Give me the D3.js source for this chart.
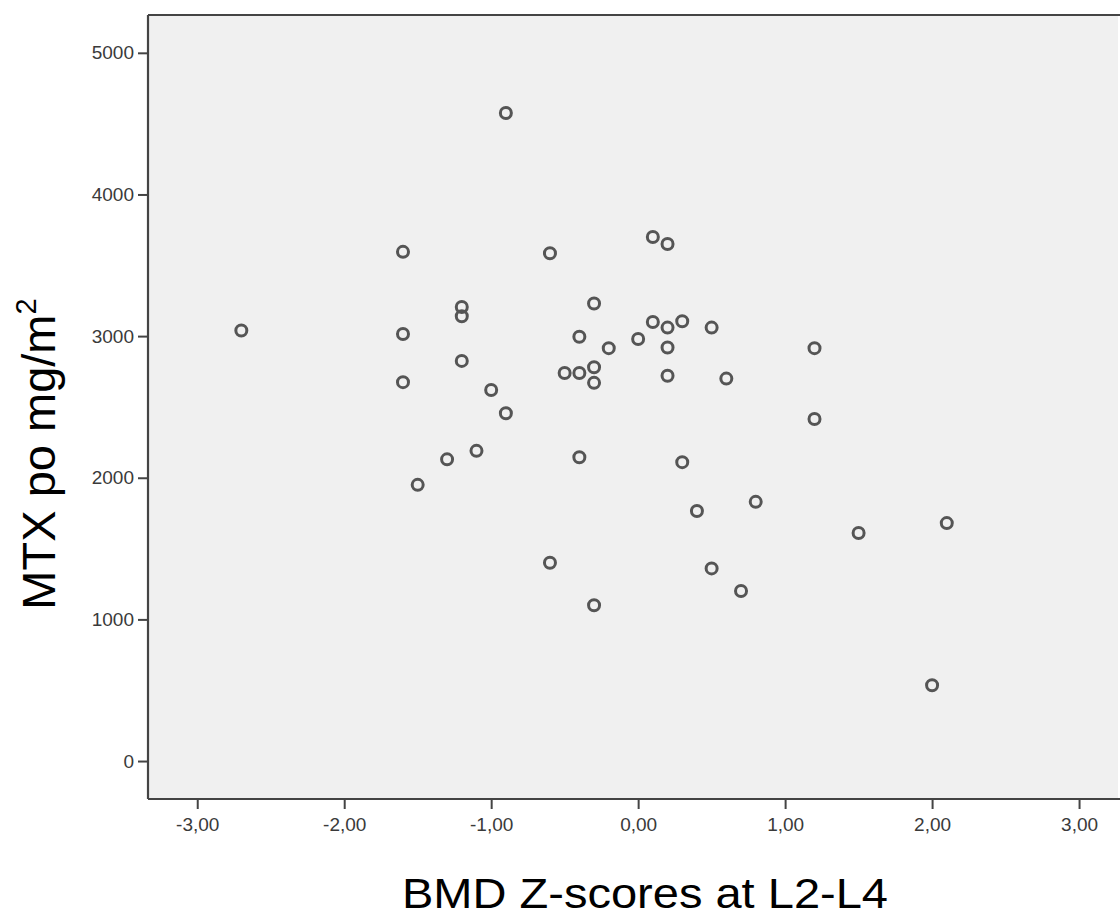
<!DOCTYPE html>
<html lang="en">
<head>
    <meta charset="UTF-8">
    <title>MTX vs BMD Z-scores</title>
    <style>
        body { margin: 0; background: #fff; }
        .tick text {
            font: 19px "Liberation Sans", Arial, sans-serif;
            fill: #3a3a3a;
        }
        .axis-title {
            font-family: "Liberation Sans", Arial, sans-serif;
            fill: #000;
        }
    </style>
</head>
<body>
    <script src="https://d3js.org/d3.v7.min.js"></script>
    <script>
        // BMD Z-score at L2-L4 and MTX dose (mg/m2)
        const zScores = [
            -2.7, -0.9, -1.6, -0.6, 0.1, 0.2, -1.6, -1.6, -1.2, -1.2, -1.2,
            -1.0, -0.9, -1.1, -1.3, -1.5, -0.3, -0.4, -0.2, 0.0, 0.1, 0.2,
            0.3, 0.5, 0.2, -0.5, -0.4, -0.3, -0.3, 0.2, 0.6, -0.4, 0.3,
            0.8, 0.4, 1.5, 2.1, 1.2, 1.2, -0.6, -0.3, 0.5, 0.7, 2.0
        ];
        const mtxDose = [
            3040, 4575, 3595, 3585, 3700, 3650, 3015, 2675, 3205, 3140, 2825,
            2620, 2455, 2190, 2130, 1950, 3230, 2995, 2915, 2980, 3100, 3060,
            3105, 3060, 2920, 2740, 2740, 2780, 2670, 2720, 2700, 2145, 2110,
            1830, 1765, 1610, 1680, 2915, 2415, 1400, 1100, 1360, 1200, 535
        ];
        const xTicks = [-3, -2, -1, 0, 1, 2, 3];
        const yTicks = [0, 1000, 2000, 3000, 4000, 5000];

        const width = 1120;
        const height = 917;
        const plotLeft = 148, plotRight = 1118, plotTop = 15, plotBottom = 799;

        const svg = d3.select("body")
            .append("svg")
            .attr("width", width)
            .attr("height", height);

        const x = d3.scaleLinear()
            .domain([-3.335, 3.265])
            .range([plotLeft, plotRight]);

        const y = d3.scaleLinear()
            .domain([-268, 5267])
            .range([plotBottom, plotTop]);

        // plot background
        svg.append("rect")
            .attr("x", plotLeft)
            .attr("y", plotTop)
            .attr("width", plotRight - plotLeft)
            .attr("height", plotBottom - plotTop)
            .attr("fill", "#f0f0f0");

        const fmt = d => d.toFixed(2).replace(".", ",");

        svg.append("g")
            .attr("transform", `translate(0, ${plotBottom})`)
            .call(d3.axisBottom(x).tickValues(xTicks).tickFormat(fmt)
                .tickSize(10).tickPadding(9).tickSizeOuter(0));

        svg.append("g")
            .attr("transform", `translate(${plotLeft}, 0)`)
            .call(d3.axisLeft(y).tickValues(yTicks).tickFormat(d3.format("d"))
                .tickSize(10).tickPadding(4).tickSizeOuter(0));

        svg.selectAll(".domain").remove();
        svg.selectAll(".tick line")
            .attr("stroke", "#444")
            .attr("stroke-width", 2);

        // frame: left, bottom and top edges
        const frame = svg.append("g")
            .attr("stroke", "#444")
            .attr("stroke-width", 2.2);
        frame.append("line").attr("x1", plotLeft).attr("x2", plotLeft).attr("y1", plotTop).attr("y2", plotBottom);
        frame.append("line").attr("x1", plotLeft).attr("x2", width).attr("y1", plotBottom).attr("y2", plotBottom);
        frame.append("line").attr("x1", plotLeft).attr("x2", width).attr("y1", plotTop).attr("y2", plotTop);

        svg.append("g")
            .selectAll("circle")
            .data(zScores.map((z, i) => [z, mtxDose[i]]))
            .join("circle")
            .attr("cx", d => x(d[0]))
            .attr("cy", d => y(d[1]))
            .attr("r", 5.5)
            .attr("fill", "none")
            .attr("stroke", "#555")
            .attr("stroke-width", 3);

        svg.append("text")
            .attr("class", "axis-title")
            .attr("x", 645)
            .attr("y", 908)
            .attr("text-anchor", "middle")
            .attr("font-size", 43)
            .attr("textLength", 486)
            .attr("lengthAdjust", "spacingAndGlyphs")
            .text("BMD Z-scores at L2-L4");

        const yTitle = svg.append("text")
            .attr("class", "axis-title")
            .attr("transform", "translate(55, 454) rotate(-90)")
            .attr("text-anchor", "middle")
            .attr("font-size", 47);
        yTitle.append("tspan").text("MTX po mg/m");
        yTitle.append("tspan")
            .attr("font-size", 29)
            .attr("dy", -19)
            .text("2");
    </script>
</body>
</html>
